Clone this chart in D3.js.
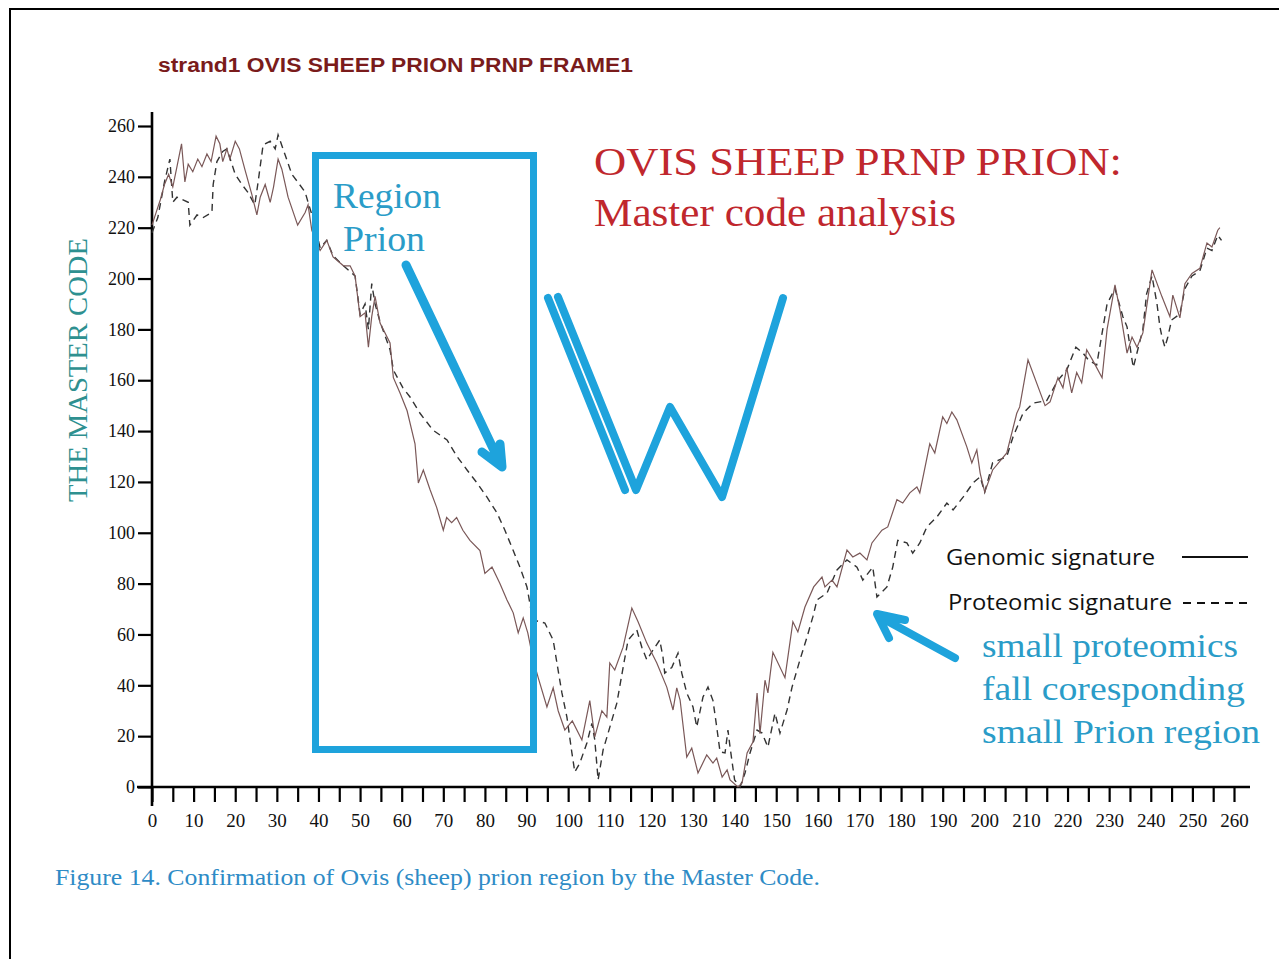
<!DOCTYPE html>
<html><head><meta charset="utf-8">
<script src="https://cdn.jsdelivr.net/npm/d3@7"></script>
<style>html,body{margin:0;padding:0;background:#fff;}svg{display:block;}</style>
</head><body>
<script>
// ---- data ----
const genomicX = [0,1,2,3,4,5,6,7.1,7.9,8.7,9.8,11,12,13.2,14.2,15.4,16.3,17,18,18.7,20,21,22.3,24,25.2,26,27.2,28.4,29.2,30.3,31.2,32.7,35,36.8,37.5,38.4,40.4,42,43.5,46,47.6,48.8,50,51.2,52,52.8,53.6,54.8,57.2,58,59.6,61.3,63.2,64,65.2,66.8,68.4,70,70.8,72,73.2,74.7,76.4,78.8,80,81.7,83.6,85.3,86.8,88,89.2,90.3,91.6,92.8,94.9,96.4,97.6,99.2,101,103.3,105.2,106.4,108.1,109.3,110,111.2,113.2,115.3,116.8,118.9,121.3,123.7,125.2,126.1,126.9,128.5,129.7,131.2,133.3,134.8,135.7,137,138.2,138.9,140.8,141.8,143,144.4,145.4,146.1,147.3,148,149.2,152.1,154,155.2,156.9,159,161,161.7,163.4,164.6,167,168.4,170.1,171.8,173,175.4,176.8,179,180.4,182.1,183.8,184.5,186.9,188.1,190,191,192.2,193.4,195.8,197,198.2,199,200.1,202,205.4,207.8,208.5,210.5,214.6,215.8,217.7,218.9,219.8,221,222.2,223.4,224.6,226,228.3,229.5,231.4,232.6,234.3,235.5,236.7,238.1,240.3,242.7,244.6,245.3,247,248.2,249.9,251.8,253.5,254.7,256.1,256.6];
const genomicY = [221,226,231,237,241,236,244,253,238,245,242,247,244,249,246,256,253,246,251,247,254,251,243,233,225,232,237,230,236,247,243,232,221,226,229,219,211,215,208.5,205,205,201,185,186.5,173,185,193,182.5,174.7,161,155,148,135,119.6,124.7,117,110,101,106,104,106,101,97,93,84,86.5,80,73.6,68.5,60.6,66.5,60.6,50,43,31.5,39,30,22.4,26,18.5,34,19.7,30,27.5,48.8,46,55,70.4,65,56.6,48.8,39.3,30.3,39,34.2,11.8,15.3,5.5,12.6,9.4,11.4,3.9,6.7,2.8,0,1.6,13.4,17.7,37,21,42,37,53,43,65,61,70.8,78.7,82.6,78.7,81.4,78.7,93.2,90.5,92,89.3,96,101,102.3,113,111.7,115.7,118,115.7,135,131.4,145.6,143,147.5,144.4,133.8,127.5,132.6,123.5,116,124.7,131.4,147,149.5,168,150,151.5,161,157,165,155,163,159,172,168,161,180,197.5,187.6,170.7,177,173,178.6,203.4,192.8,185,193.5,184.5,198,202,204,214,212.4,219,220];

const proteomicX = [0,1.4,3,4.3,5,6,8.7,9.1,10.8,12.3,14.4,14.7,15.6,17,18,20,21.6,23,24.7,25.5,26.7,28.4,29.6,30.3,32,33.6,35,36.8,37.5,39,40.4,42,43.5,46,48.8,50,51.2,52,52.8,53.6,54.8,57.2,58,60.3,62,64.4,67.5,70.9,73.3,75.7,78.1,80.5,82.9,84.8,86.8,88.4,90.1,91.5,94.4,96.4,97.3,98.5,99.7,100.9,101.6,102.8,104.5,105.7,106.4,107.2,108.4,109.6,111.7,113.2,114.4,116.5,117.7,118.9,120.4,122,122.8,123.2,124.9,126.4,127.3,128.5,130,130.9,132.4,133.6,134.8,135.7,136.5,137.7,138.4,138.9,140,141.3,142.5,143.7,145.4,146.6,148,149.7,150.9,152.6,153.8,155.7,157.4,158.8,159.8,162.2,164.6,167,169.4,170.8,173.2,174.2,176.6,178,179.2,181.4,182.8,184.5,186.2,188.6,191,192.5,194.9,197.3,199,200.1,202,205.4,206.9,209.3,211.7,215,217.7,219.8,222,223.7,225,227,229.5,231.4,233.3,234.3,235.5,235.8,238.1,239,240.3,241.5,242.2,242.7,243.4,244.1,245,247,248.2,249.9,251.8,253.5,254.7,256.1,257];
const proteomicY = [218,224,238,247,230,232,230,221,225,224,226,237,246,250,251,241,237,234,229,238,252.6,254,251,256.5,248.6,241,238,234,230,222,212,215,209,205,201,186,190,180,198,190,183,172,164,157,153.4,147,140.4,136.5,130,124.7,119.6,114,107.8,101,93,86.5,78.7,65.7,64.5,57.8,48.8,37,27.5,13.4,5.9,9.4,17.3,25,18.5,2.8,14.6,21.2,33,47,57.8,61.8,55,50,53.9,57.8,51,44.8,47,52.7,44.8,37,31.5,23.6,35.4,39.3,34,23.6,13.8,13.4,22.4,15.7,2.8,0,5.5,13.4,22.4,21.2,15.7,29,21.2,30.3,39.3,50,59,66.9,73.6,76.3,85.4,89.3,86.5,81.4,86.5,74.7,78.7,86.5,97,96,92,96,102.3,106.2,111.7,109,114,119.6,122,116,127.5,130,137.7,147,151,152,160,164,173,170.7,168,166,190,196,185,181,168,165,180,194,201,190,181,177,173,177,183.7,186,196,201,203,212,211,217,215];

const xTicks = d3.range(0, 261, 5);
const yTicks = d3.range(0, 261, 20);
const titleText = "strand1 OVIS SHEEP PRION PRNP FRAME1";
const yTitle = "THE MASTER CODE";
const legendLabels = ["Genomic signature", "Proteomic signature"];
const noteRed = ["OVIS SHEEP PRNP PRION:", "Master code analysis"];
const noteRegion = ["Region", "Prion"];
const noteSmall = ["small proteomics", "fall coresponding", "small Prion region"];
const caption = "Figure 14. Confirmation of Ovis (sheep) prion region by the Master Code.";

// ---- drawing ----
const W = 1279, H = 959;
const svg = d3.select("body").append("svg").attr("width", W).attr("height", H);
svg.append("rect").attr("width", W).attr("height", H).attr("fill", "#fff");
svg.append("rect").attr("x", 10).attr("y", 9).attr("width", W + 10).attr("height", H + 10)
  .attr("fill", "none").attr("stroke", "#000").attr("stroke-width", 2);

const x = d3.scaleLinear().domain([0, 260]).range([152, 1234]);
const y = d3.scaleLinear().domain([0, 260]).range([787, 126]);

const BLUE = "#1ea3dc";
const TXTBLUE = "#2a9cc8";

function txt(t, px, py, opts) {
  const e = svg.append("text").attr("x", px).attr("y", py).text(t)
    .attr("font-family", opts.family).attr("font-size", opts.size)
    .attr("fill", opts.fill || "#000");
  if (opts.weight) e.attr("font-weight", opts.weight);
  if (opts.len) e.attr("textLength", opts.len).attr("lengthAdjust", "spacingAndGlyphs");
  return e;
}

// title
txt(titleText, 158, 72, {family: "Liberation Sans, Arial, sans-serif", size: 20, weight: "bold", fill: "#7a1b1b", len: 475});

// y title
svg.append("text").attr("transform", "translate(87,370) rotate(-90)")
  .attr("text-anchor", "middle").attr("font-family", "Liberation Serif, serif")
  .attr("font-size", 27).attr("fill", "#2e9090")
  .attr("textLength", 264).attr("lengthAdjust", "spacingAndGlyphs").text(yTitle);

// axes
const gx = svg.append("g").attr("transform", `translate(0,${y(0)})`)
  .call(d3.axisBottom(x).tickValues(xTicks).tickSize(15).tickPadding(12)
    .tickFormat(d => d % 10 === 0 ? d : ""));
gx.select(".domain").remove();
gx.selectAll(".tick line").attr("stroke", "#000").attr("stroke-width", 2.2);
gx.selectAll(".tick text").attr("font-family", "Liberation Serif, serif").attr("font-size", 19).attr("fill", "#111");
svg.append("line").attr("x1", 137).attr("x2", 1250).attr("y1", y(0)).attr("y2", y(0))
  .attr("stroke", "#000").attr("stroke-width", 2.6);

const gy = svg.append("g").attr("transform", `translate(${x(0)},0)`)
  .call(d3.axisLeft(y).tickValues(yTicks).tickSize(14).tickPadding(3));
gy.select(".domain").remove();
gy.selectAll(".tick line").attr("stroke", "#000").attr("stroke-width", 2.2);
gy.selectAll(".tick text").attr("font-family", "Liberation Serif, serif").attr("font-size", 18).attr("fill", "#111");
svg.append("line").attr("x1", x(0)).attr("x2", x(0)).attr("y1", 112).attr("y2", 806)
  .attr("stroke", "#000").attr("stroke-width", 2.6);

// series
const line = d3.line().x(d => x(d[0])).y(d => y(d[1]));
const gData = genomicX.map((v, i) => [v, genomicY[i]]);
const pData = proteomicX.map((v, i) => [v, proteomicY[i]]);
svg.append("path").datum(pData).attr("d", line).attr("fill", "none")
  .attr("stroke", "#333").attr("stroke-width", 1.4).attr("stroke-dasharray", "7,5");
svg.append("path").datum(gData).attr("d", line).attr("fill", "none")
  .attr("stroke", "#7a5858").attr("stroke-width", 1.2);

// annotations: blue box
svg.append("rect").attr("x", 315.5).attr("y", 155.5).attr("width", 218).attr("height", 594)
  .attr("fill", "none").attr("stroke", BLUE).attr("stroke-width", 7);

// arrow in box
svg.append("path").attr("d", "M406,265 L500,463 M482,452 L502,467 L500,444")
  .attr("fill", "none").attr("stroke", BLUE).attr("stroke-width", 9)
  .attr("stroke-linecap", "round").attr("stroke-linejoin", "round");

// W shape
svg.append("path").attr("d", "M548,298 L625,490 M558,297 L636,490 L670,407 L722,497 L783,298")
  .attr("fill", "none").attr("stroke", BLUE).attr("stroke-width", 8)
  .attr("stroke-linecap", "round").attr("stroke-linejoin", "round");

// arrow to small fall
svg.append("path").attr("d", "M955,658 L880,617 M905,620 L877,614 L889,638")
  .attr("fill", "none").attr("stroke", BLUE).attr("stroke-width", 8)
  .attr("stroke-linecap", "round").attr("stroke-linejoin", "round");

// text annotations
txt(noteRegion[0], 333, 208, {family: "Liberation Serif, serif", size: 36, fill: TXTBLUE, len: 108});
txt(noteRegion[1], 343, 251, {family: "Liberation Serif, serif", size: 36, fill: TXTBLUE, len: 82});
txt(noteRed[0], 594, 175, {family: "Liberation Serif, serif", size: 40, fill: "#c0272d", len: 528});
txt(noteRed[1], 594, 226, {family: "Liberation Serif, serif", size: 40, fill: "#c0272d", len: 362});
txt(noteSmall[0], 982, 657, {family: "Liberation Serif, serif", size: 34, fill: TXTBLUE, len: 256});
txt(noteSmall[1], 982, 700, {family: "Liberation Serif, serif", size: 34, fill: TXTBLUE, len: 263});
txt(noteSmall[2], 982, 743, {family: "Liberation Serif, serif", size: 34, fill: TXTBLUE, len: 278});

// legend
txt(legendLabels[0], 946, 565, {family: "Open Sans, sans-serif", size: 21, fill: "#111", len: 209});
txt(legendLabels[1], 948, 610, {family: "Open Sans, sans-serif", size: 21, fill: "#111", len: 224});
svg.append("line").attr("x1", 1182).attr("x2", 1248).attr("y1", 557).attr("y2", 557)
  .attr("stroke", "#111").attr("stroke-width", 2);
svg.append("line").attr("x1", 1183).attr("x2", 1250).attr("y1", 603).attr("y2", 603)
  .attr("stroke", "#111").attr("stroke-width", 2).attr("stroke-dasharray", "8,6");

// caption
txt(caption, 55, 885, {family: "Liberation Serif, serif", size: 23, fill: "#2e8bc6", len: 765});
</script>
</body></html>
